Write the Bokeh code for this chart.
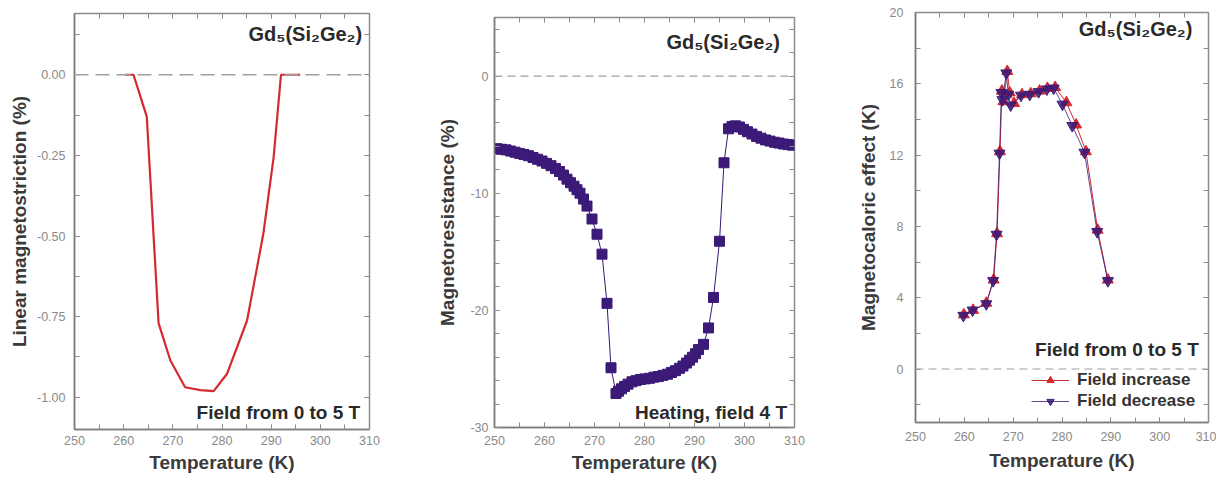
from bokeh.plotting import figure
from bokeh.layouts import row, column
from bokeh.models import (FixedTicker, Span, Label, LinearAxis, PrintfTickFormatter,
                          Legend, LegendItem, Range1d)
from bokeh.embed import file_html
from bokeh.resources import INLINE

FONT = "Liberation Sans"

# ---------------- data ----------------
# Panel 1: linear magnetostriction (%), field 0 -> 5 T
ms_temp = [260.3, 262.0, 264.7, 267.1, 269.5, 272.5, 275.6, 278.3, 281.0, 285.1, 288.4, 290.5, 292.0, 295.9]
ms_strain = [0.0, 0.0, -0.13, -0.77, -0.886, -0.969, -0.978, -0.981, -0.928, -0.762, -0.494, -0.256, 0.0, 0.0]

# Panel 2: magnetoresistance (%), heating, 4 T
mr_temp = [250.5, 251.4, 252.3, 253.2, 254.1, 255.0, 255.9, 256.8, 257.7, 258.6, 259.5, 260.4, 261.3,
           262.2, 263.0, 263.8, 264.5, 265.2, 265.9, 266.5, 267.1, 267.8, 268.5, 269.5, 270.5, 271.5,
           272.5, 273.3, 274.3, 274.8, 275.4, 276.0, 276.7, 277.5, 278.3, 279.2, 280.1, 281.0, 281.9,
           282.8, 283.7, 284.6, 285.4, 286.2, 287.0, 287.7, 288.4, 289.0, 289.6, 290.2, 290.8, 291.8,
           292.8, 293.8, 295.0, 295.9, 296.8, 297.5, 298.2, 299.0, 299.8, 300.6, 301.5, 302.4, 303.3,
           304.2, 305.1, 306.0, 306.9, 307.8, 308.7, 309.6]
mr_value = [-6.2, -6.25, -6.3, -6.4, -6.5, -6.6, -6.7, -6.8, -6.95, -7.1, -7.25, -7.45, -7.65,
            -7.9, -8.15, -8.45, -8.8, -9.1, -9.4, -9.7, -10.0, -10.5, -11.1, -12.2, -13.5, -15.2,
            -19.4, -24.9, -27.1, -26.9, -26.7, -26.5, -26.3, -26.1, -26.0, -25.9, -25.85, -25.8, -25.7,
            -25.65, -25.55, -25.45, -25.3, -25.15, -24.95, -24.75, -24.5, -24.25, -24.0, -23.7, -23.35, -22.9,
            -21.5, -18.9, -14.1, -7.4, -4.5, -4.3, -4.25, -4.35, -4.55, -4.75, -4.95, -5.15, -5.3,
            -5.45, -5.55, -5.65, -5.72, -5.8, -5.85, -5.9]

# Panel 3: magnetocaloric effect (K)
mce_inc_temp = [259.9, 261.8, 264.5, 266.0, 266.7, 267.3, 267.7, 268.0, 268.8, 269.3, 270.2, 271.8,
                273.6, 275.4, 277.0, 278.6, 280.9, 282.9, 284.9, 287.3, 289.4]
mce_inc_value = [3.05, 3.3, 3.7, 5.0, 7.6, 12.2, 15.6, 15.0, 16.7, 15.5, 14.9, 15.4,
                 15.45, 15.6, 15.75, 15.8, 14.95, 13.7, 12.2, 7.8, 5.0]
mce_dec_temp = [259.8, 261.7, 264.5, 265.9, 266.6, 267.2, 267.6, 267.8, 268.6, 269.0, 269.5, 271.6,
                273.4, 275.2, 276.9, 278.3, 280.1, 282.1, 284.6, 287.2, 289.4]
mce_dec_value = [3.0, 3.3, 3.65, 4.95, 7.55, 12.1, 15.5, 15.1, 16.6, 15.4, 14.8, 15.35,
                 15.4, 15.55, 15.7, 15.75, 14.85, 13.65, 12.15, 7.7, 4.95]

x_major = [250, 260, 270, 280, 290, 300, 310]
x_minor = [250, 255, 260, 265, 270, 275, 280, 285, 290, 295, 300, 305, 310]
ms_major = [-1.0, -0.75, -0.5, -0.25, 0.0]
ms_minor = [-1.0, -0.875, -0.75, -0.625, -0.5, -0.375, -0.25, -0.125, 0.0, 0.125]
mr_major = [-30, -20, -10, 0]
mr_minor = [-30, -28, -26, -24, -22, -20, -18, -16, -14, -12, -10, -8, -6, -4, -2, 0, 2, 4]
mce_major = [0, 4, 8, 12, 16, 20]
mce_minor = [-2, 0, 2, 4, 6, 8, 10, 12, 14, 16, 18, 20]

RED = "#d22a30"
PURPLE = "#3b1a78"
TICK_TXT = "#8a8a8a"
LABEL_TXT = "#3a3a3a"
TITLE_TXT = "#2a2a2a"
FRAME = "#8c8c8c"


def make_fig(width, height, xr, yr, borders, xticks, yticks, yfmt, xlabel, ylabel,
             xtick_standoff, xlabel_standoff, ylabel_standoff, ytick_standoff):
    top, right, bottom, left = borders
    p = figure(width=width, height=height, x_range=Range1d(*xr), y_range=Range1d(*yr),
               output_backend="svg", toolbar_location=None, title=None,
               min_border_top=top, min_border_right=right,
               min_border_bottom=bottom, min_border_left=left)
    p.grid.visible = False
    p.outline_line_color = FRAME
    p.outline_line_width = 1.5
    p.background_fill_color = "white"
    p.border_fill_color = "white"

    xt = FixedTicker(ticks=xticks[0], minor_ticks=xticks[1])
    yt = FixedTicker(ticks=yticks[0], minor_ticks=yticks[1])

    xa = p.xaxis[0]
    xa.ticker = xt
    xa.axis_label = xlabel
    ya = p.yaxis[0]
    ya.ticker = yt
    ya.formatter = PrintfTickFormatter(format=yfmt)
    ya.axis_label = ylabel
    for ax in (xa, ya):
        ax.axis_line_color = "#7a7a7a"
        ax.axis_line_width = 1.5
        ax.major_tick_in = 5
        ax.major_tick_out = 0
        ax.minor_tick_in = 5
        ax.minor_tick_out = 0
        ax.major_tick_line_color = "#8c8c8c"
        ax.minor_tick_line_color = "#8c8c8c"
        ax.major_label_text_font = FONT
        ax.major_label_text_font_size = "12.5px"
        ax.major_label_text_color = TICK_TXT
        ax.axis_label_text_font = FONT
        ax.axis_label_text_font_style = "bold"
        ax.axis_label_text_color = LABEL_TXT
    xa.formatter = PrintfTickFormatter(format="%d")
    xa.major_label_standoff = xtick_standoff
    xa.axis_label_standoff = xlabel_standoff
    xa.axis_label_text_font_size = "19px"
    ya.major_label_standoff = ytick_standoff
    ya.axis_label_standoff = ylabel_standoff
    ya.axis_label_text_font_size = "19px"

    for loc, tk in (("above", xt), ("right", yt)):
        ax = LinearAxis(ticker=tk, axis_line_color=None,
                        major_tick_in=5, major_tick_out=0, minor_tick_in=5, minor_tick_out=0,
                        major_tick_line_color="#8c8c8c", minor_tick_line_color="#8c8c8c",
                        major_label_text_color=None, major_label_text_font_size="0px",
                        major_label_standoff=0)
        p.add_layout(ax, loc)
    return p


def add_text(p, x, y, text, size="19px"):
    p.add_layout(Label(x=x, y=y, text=text, text_align="right", text_baseline="middle",
                       text_font=FONT, text_font_style="bold", text_font_size=size,
                       text_color=TITLE_TXT))


TITLE = "Gd\u2085(Si\u2082Ge\u2082)"
H = 478

# ---------------- panel 1 ----------------
p1 = make_fig(428, H, (250, 310), (-1.1, 0.19), (13, 59, 49, 74),
              (x_major, x_minor), (ms_major, ms_minor), "%.2f",
              "Temperature (K)", "Linear magnetostriction (%)", 6, 4, 4, 9)
p1.add_layout(Span(location=0, dimension="width", line_color="#a0a0a0",
                   line_dash="14 7", line_width=1.3))
p1.line(ms_temp, ms_strain, line_color=RED, line_width=2.2)
add_text(p1, 308.5, 0.125, TITLE, "20px")
add_text(p1, 308.1, -1.046, "Field from 0 to 5 T")

# ---------------- panel 2 ----------------
p2 = make_fig(426, H, (250, 310), (-30, 5), (17, 60, 51, 66),
              (x_major, x_minor), (mr_major, mr_minor), "%d",
              "Temperature (K)", "Magnetoresistance (%)", 8, 4, 9, 6)
p2.add_layout(Span(location=0, dimension="width", line_color="#a0a0a0",
                   line_dash="8 5", line_width=1.2))
p2.line(mr_temp, mr_value, line_color=PURPLE, line_width=1)
p2.scatter(mr_temp, mr_value, marker="square", size=10, fill_color=PURPLE, line_color=PURPLE)
add_text(p2, 307.1, 2.9, TITLE, "20px")
add_text(p2, 308.5, -28.7, "Heating, field 4 T")

# ---------------- panel 3 ----------------
p3 = make_fig(362, H, (250, 310), (-3, 20), (12, 8, 56, 56),
              (x_major, x_minor), (mce_major, mce_minor), "%d",
              "Temperature (K)", "Magnetocaloric effect (K)", 9, 6, 8, 12)
p3.add_layout(Span(location=0, dimension="width", line_color="#a0a0a0",
                   line_dash="8 5", line_width=1.2))
l_inc = p3.line(mce_inc_temp, mce_inc_value, line_color=RED, line_width=1)
s_inc = p3.scatter(mce_inc_temp, mce_inc_value, marker="triangle", size=11,
                   fill_color=RED, line_color=RED)
l_dec = p3.line(mce_dec_temp, mce_dec_value, line_color=PURPLE, line_width=1, line_alpha=0.8)
s_dec = p3.scatter(mce_dec_temp, mce_dec_value, marker="inverted_triangle", size=11,
                   fill_color=PURPLE, line_color=PURPLE, fill_alpha=0.85)
add_text(p3, 306.7, 19.05, TITLE, "20px")
add_text(p3, 308.0, 1.12, "Field from 0 to 5 T")

legend = Legend(items=[LegendItem(label="Field increase", renderers=[l_inc, s_inc]),
                       LegendItem(label="Field decrease", renderers=[l_dec, s_dec])],
                location=(116, 11), border_line_color=None, background_fill_alpha=0,
                label_text_font=FONT, label_text_font_style="bold", label_text_font_size="17px",
                label_text_color="#333333", glyph_width=38, glyph_height=18, label_height=18,
                spacing=1, padding=2, margin=0, label_standoff=8)
p3.add_layout(legend)

# each panel in its own column so that the frames are not aligned across the row
layout = row(column(p1), column(p2), column(p3))
open("out.html", "w").write(file_html(layout, INLINE))
